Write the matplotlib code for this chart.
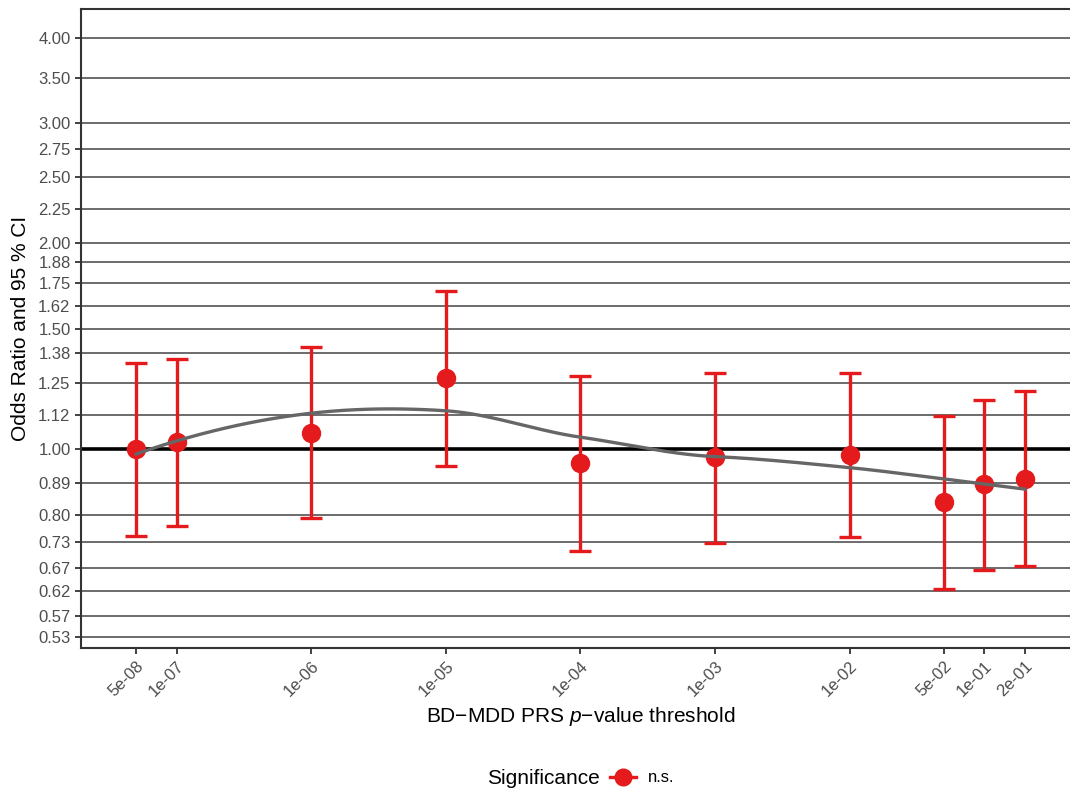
import numpy as np
import matplotlib
matplotlib.use("Agg")
import matplotlib.pyplot as plt
from matplotlib.lines import Line2D

plt.rcParams['font.family'] = ['Liberation Sans', 'DejaVu Sans']
plt.rcParams['mathtext.fontset'] = 'custom'
plt.rcParams['mathtext.it'] = 'Liberation Sans:italic'
plt.rcParams['mathtext.rm'] = 'Liberation Sans'

# p-value thresholds and odds ratios
thresholds = [5e-08, 1e-07, 1e-06, 1e-05, 1e-04, 1e-03, 1e-02, 5e-02, 1e-01, 2e-01]
tick_labels = ['5e-08', '1e-07', '1e-06', '1e-05', '1e-04', '1e-03', '1e-02', '5e-02', '1e-01', '2e-01']
odds_ratio = [1.000, 1.024, 1.055, 1.272, 0.954, 0.974, 0.980, 0.835, 0.887, 0.905]
ci_lower = [0.745, 0.771, 0.792, 0.945, 0.709, 0.728, 0.743, 0.624, 0.665, 0.674]
ci_upper = [1.337, 1.355, 1.410, 1.706, 1.280, 1.293, 1.293, 1.117, 1.178, 1.214]
y_ticks = [0.53, 0.57, 0.62, 0.67, 0.73, 0.80, 0.89, 1.00, 1.12, 1.25, 1.38, 1.50,
           1.62, 1.75, 1.88, 2.00, 2.25, 2.50, 2.75, 3.00, 3.50, 4.00]

RED = '#E41A1C'


def local_fit(x, y, x0, span=0.75):
    # local quadratic fit with tricube weights, returns value and slope at x0
    q = int(np.floor(len(x) * span))
    d = np.abs(x - x0)
    h = np.sort(d)[q - 1]
    w = np.clip(1 - (d / h) ** 3, 0, None) ** 3
    sw = np.sqrt(w)
    A = np.vstack([np.ones_like(x), x - x0, (x - x0) ** 2]).T
    coef, *_ = np.linalg.lstsq(A * sw[:, None], y * sw, rcond=None)
    return coef[0], coef[1]


def kd_vertices(xsrt, fc, lo, hi, l, u, out):
    # split cells at the median data point until they hold <= fc points
    if u - l + 1 <= fc:
        return
    m = (l + u) // 2
    s = xsrt[m]
    if s == lo or s == hi:
        return
    out.append(s)
    kd_vertices(xsrt, fc, lo, s, l, m, out)
    kd_vertices(xsrt, fc, s, hi, m + 1, u, out)


def loess(x, y, xs, span=0.75, cell=0.2):
    # like R's loess(surface = "interpolate"): fit at cell vertices, then cubic Hermite
    xsrt = np.sort(x)
    n = len(x)
    mu = 0.005 * (xsrt[-1] - xsrt[0])
    lo, hi = xsrt[0] - mu, xsrt[-1] + mu
    verts = [lo, hi]
    kd_vertices(xsrt, int(np.floor(n * span * cell)), lo, hi, 0, n - 1, verts)
    verts = np.array(sorted(verts))
    vals = np.array([local_fit(x, y, v, span) for v in verts])
    out = []
    for x0 in xs:
        i = min(max(np.searchsorted(verts, x0) - 1, 0), len(verts) - 2)
        h = verts[i + 1] - verts[i]
        t = (x0 - verts[i]) / h
        h00 = 2 * t ** 3 - 3 * t ** 2 + 1
        h10 = t ** 3 - 2 * t ** 2 + t
        h01 = -2 * t ** 3 + 3 * t ** 2
        h11 = t ** 3 - t ** 2
        out.append(h00 * vals[i, 0] + h10 * h * vals[i, 1] + h01 * vals[i + 1, 0] + h11 * h * vals[i + 1, 1])
    return np.array(out)


x = np.array(thresholds)
orr = np.array(odds_ratio)
lx = np.log10(x)
xs = np.linspace(lx.min(), lx.max(), 300)
smooth = 10 ** loess(lx, np.log10(orr), xs)

fig = plt.figure(figsize=(10.7, 7.95), dpi=100)
ax = fig.add_axes([81 / 1070, 1 - 648 / 795, 999 / 1070, (648 - 9) / 795])
ax.set_xscale('log')
ax.set_yscale('log')
ax.set_xlim(10 ** -7.71, 10 ** -0.29)
ax.set_ylim(0.511, 4.41)

for t in y_ticks:
    ax.axhline(t, color='#6b6b6b', lw=1.4, zorder=1)
ax.axhline(1.0, color='black', lw=2.6, zorder=2)

yerr = [orr - np.array(ci_lower), np.array(ci_upper) - orr]
ax.errorbar(x, orr, yerr=yerr, fmt='o', color=RED, ms=13, elinewidth=2.4,
            capsize=8, capthick=2.4, zorder=3)
ax.plot(10 ** xs, smooth, color='#666666', lw=2.4, zorder=4)

ax.set_yticks(y_ticks)
ax.set_yticklabels(['%.2f' % t for t in y_ticks])
ax.yaxis.set_minor_locator(matplotlib.ticker.NullLocator())
ax.set_xticks(thresholds)
ax.set_xticklabels(tick_labels, rotation=45, ha='right', va='top', rotation_mode='anchor')
ax.xaxis.set_minor_locator(matplotlib.ticker.NullLocator())
ax.tick_params(axis='both', labelsize=12, labelcolor='#4d4d4d', color='#333333', width=1.3, length=4)

for s in ['left', 'top', 'bottom']:
    ax.spines[s].set_color('#333333')
    ax.spines[s].set_linewidth(1.5)
ax.spines['right'].set_visible(False)

ax.set_xlabel('BD\u2212MDD PRS $p$\u2212value threshold', fontsize=15, labelpad=4)
ax.set_ylabel('Odds Ratio and 95 % CI', fontsize=15, labelpad=6)

fig.text(487 / 1070, 1 - 778 / 795, 'Significance', fontsize=15, ha='left', va='center')
handle = Line2D([0], [0], color=RED, lw=2.4, marker='o', ms=12)
fig.legend(handles=[handle], labels=['n.s.'], loc='center left',
           bbox_to_anchor=(610 / 1070, 1 - 778 / 795), frameon=False, fontsize=12,
           handlelength=1.55, handletextpad=0.7, borderaxespad=0, borderpad=0)

fig.savefig('out.png', dpi=100)
